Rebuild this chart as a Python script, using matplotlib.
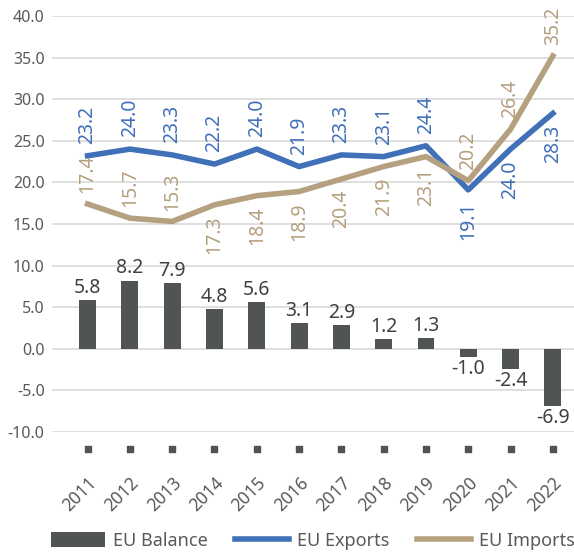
import matplotlib.pyplot as plt
import numpy as np

plt.rcParams['font.family'] = ['Noto Sans', 'DejaVu Sans']

years = ['2011', '2012', '2013', '2014', '2015', '2016', '2017', '2018', '2019', '2020', '2021', '2022']
balance = [5.8, 8.2, 7.9, 4.8, 5.6, 3.1, 2.9, 1.2, 1.3, -1.0, -2.4, -6.9]
exports = [23.2, 24.0, 23.3, 22.2, 24.0, 21.9, 23.3, 23.1, 24.4, 19.1, 24.0, 28.3]
imports = [17.4, 15.7, 15.3, 17.3, 18.4, 18.9, 20.4, 21.9, 23.1, 20.2, 26.4, 35.2]
# label side: +1 above the line, -1 below
exp_side = [1, 1, 1, 1, 1, 1, 1, 1, 1, -1, -1, -1]
imp_side = [1, 1, 1, -1, -1, -1, -1, -1, -1, 1, 1, 1]

c_bar = '#505454'
c_exp = '#4070B8'
c_imp = '#B5A07F'
c_txt = '#595959'

fig = plt.figure(figsize=(5.74, 5.53), dpi=100)
ax = fig.add_axes([0.09, 0.219, 0.91, 0.752])
x = np.arange(len(years))

bars = ax.bar(x, balance, width=0.4, color=c_bar, zorder=2, label='EU Balance')
l1, = ax.plot(x, exports, color=c_exp, lw=4, zorder=3, label='EU Exports')
l2, = ax.plot(x, imports, color=c_imp, lw=4, zorder=3, label='EU Imports')

for i, v in enumerate(balance):
    off = 0.25 if v >= 0 else -0.25
    ax.text(i, v + off, f'{v:.1f}', ha='center', va='bottom' if v >= 0 else 'top',
            fontsize=14, color='#404040', zorder=4)
for i, v in enumerate(exports):
    s = exp_side[i]
    ax.text(i, v + 1.4 * s, f'{v:.1f}', ha='center', va='bottom' if s > 0 else 'top',
            rotation=90, fontsize=14, color=c_exp, zorder=4)
for i, v in enumerate(imports):
    s = imp_side[i]
    ax.text(i, v + 1.3 * s, f'{v:.1f}', ha='center', va='bottom' if s > 0 else 'top',
            rotation=90, fontsize=14, color=c_imp, zorder=4)

# small squares under each category
ax.scatter(x, [-12.0] * len(x), marker='s', s=24, color=c_bar, clip_on=False, zorder=2)

ax.set_ylim(-10, 40)
ax.set_xlim(-0.85, 11.5)
ax.set_yticks(np.arange(-10, 41, 5))
ax.set_yticklabels([f'{t:.1f}' for t in np.arange(-10, 41, 5)], color=c_txt, fontsize=11.5)
ax.yaxis.grid(True, color='#D9D9D9', lw=1.2, zorder=0)
ax.set_axisbelow(True)
ax.tick_params(axis='y', length=0, pad=5)
ax.set_xticks(x)
ax.set_xticklabels(years, rotation=45, ha='right', rotation_mode='anchor', color=c_txt, fontsize=12.5)
ax.tick_params(axis='x', length=0, pad=30)
for sp in ax.spines.values():
    sp.set_visible(False)

ax.legend([bars, l1, l2], ['EU Balance', 'EU Exports', 'EU Imports'],
          loc='center', bbox_to_anchor=(0.5, -0.262), ncol=3, frameon=False,
          fontsize=13, labelcolor=c_txt, handlelength=3.0, handleheight=0.9,
          columnspacing=1.5, handletextpad=0.45, borderaxespad=0, borderpad=0)

fig.savefig('out.png', dpi=100)
